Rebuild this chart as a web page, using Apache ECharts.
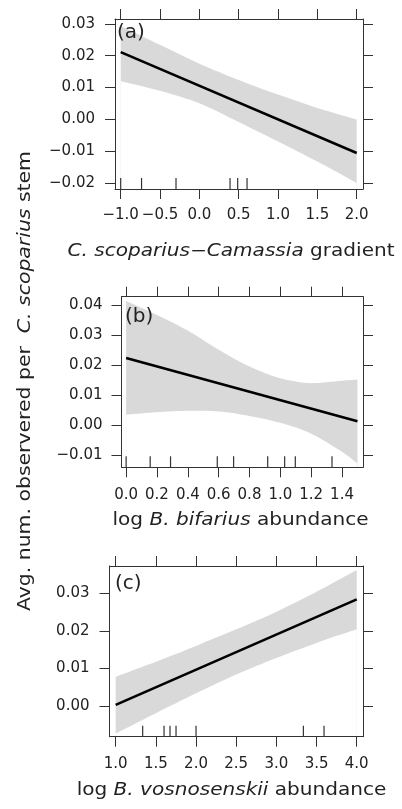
<!DOCTYPE html>
<html>
<head>
<meta charset="utf-8">
<script src="https://cdn.jsdelivr.net/npm/echarts@6/dist/echarts.min.js"></script>
<style>
html,body{margin:0;padding:0;background:#fff;}
#chart{width:402px;height:809px;}
</style>
</head>
<body>
<div id="chart"></div>
<script>
// ---------- Panel (a): C. scoparius–Camassia gradient ----------
const aBandX  = [-1.0, -0.5, 0.0, 0.5, 1.0, 1.5, 2.0];
const aUpper  = [0.0293, 0.0234, 0.0175, 0.0124, 0.0078, 0.0036, 0.0000];
const aLower  = [0.0120, 0.0090, 0.0051, -0.0008, -0.0069, -0.0132, -0.0199];
const aFitX   = [-1.0, 2.0];
const aFitY   = [0.0211, -0.0105];
const aRug    = [-1.0, -0.735, -0.297, 0.39, 0.487, 0.606];
const aXTicks = [-1.0, -0.5, 0.0, 0.5, 1.0, 1.5, 2.0];
const aYTicks = [-0.02, -0.01, 0.00, 0.01, 0.02, 0.03];

// ---------- Panel (b): log B. bifarius abundance ----------
const bBandX  = [0.0, 0.2, 0.4, 0.6, 0.8, 1.0, 1.2, 1.4, 1.5];
const bUpper  = [0.0413, 0.0367, 0.0315, 0.0251, 0.0195, 0.0156, 0.0140, 0.0148, 0.0152];
const bLower  = [0.0035, 0.0043, 0.0048, 0.0046, 0.0031, 0.0008, -0.0028, -0.0088, -0.0127];
const bFitX   = [0.0, 1.5];
const bFitY   = [0.0224, 0.0013];
const bRug    = [0.0, 0.156, 0.288, 0.591, 0.697, 0.918, 1.028, 1.097, 1.335];
const bXTicks = [0.0, 0.2, 0.4, 0.6, 0.8, 1.0, 1.2, 1.4];
const bYTicks = [-0.01, 0.00, 0.01, 0.02, 0.03, 0.04];

// ---------- Panel (c): log B. vosnosenskii abundance ----------
const cBandX  = [1.0, 1.5, 2.0, 2.5, 3.0, 3.5, 4.0];
const cUpper  = [0.0078, 0.0118, 0.0160, 0.0204, 0.0251, 0.0304, 0.0362];
const cLower  = [-0.0073, -0.0019, 0.0034, 0.0084, 0.0128, 0.0168, 0.0204];
const cFitX   = [1.0, 4.0];
const cFitY   = [0.0003, 0.0284];
const cRug    = [1.336, 1.602, 1.676, 1.751, 2.0, 3.336, 3.593];
const cXTicks = [1.0, 1.5, 2.0, 2.5, 3.0, 3.5, 4.0];
const cYTicks = [0.00, 0.01, 0.02, 0.03];

// ---------- Text ----------
const xTitles = [
  '{i|C. scoparius}\u2212{i|Camassia} gradient',
  'log {i|B. bifarius} abundance',
  'log {i|B. vosnosenskii} abundance'
];
const yTitle = 'Avg. num. observered per  {i|C. scoparius} stem';
const panelTags = ['(a)', '(b)', '(c)'];

// ---------- Layout / style ----------
const FONT = 'DejaVu Sans';
const TXT = '#222';
const FRAME = '#333';
const BAND = '#d9d9d9';

const panels = [
  {band:[aBandX,aUpper,aLower], fit:[aFitX,aFitY], rug:aRug, xt:aXTicks, yt:aYTicks,
   grid:{left:115, top:19, width:248, height:170}, xr:[-1.0725, 2.080], yr:[-0.0218, 0.0315],
   xdec:1, xm:19, ym:20},
  {band:[bBandX,bUpper,bLower], fit:[bFitX,bFitY], rug:bRug, xt:bXTicks, yt:bYTicks,
   grid:{left:121.5, top:296.7, width:241.5, height:170.6}, xr:[-0.030, 1.536], yr:[-0.0140, 0.04276],
   xdec:1, xm:20, ym:19},
  {band:[cBandX,cUpper,cLower], fit:[cFitX,cFitY], rug:cRug, xt:cXTicks, yt:cYTicks,
   grid:{left:109.5, top:566, width:253.5, height:170.7}, xr:[0.923, 4.078], yr:[-0.00817, 0.03727],
   xdec:1, xm:20, ym:20}
];
const titlePos = [[231, 252], [240.5, 520.5], [231.5, 791]];
const tagPos = [[117, 33], [125, 316.5], [115, 584]];

function fmt(v, d){ const s = Math.abs(v).toFixed(d); return (v < -1e-12 ? '\u2212' : '') + s; }

const grids = [], xAxes = [], yAxes = [], series = [], graphics = [];
const labelStyle = {fontFamily: FONT, fontSize: 15, color: TXT};

panels.forEach((p, i) => {
  grids.push(Object.assign({containLabel:false}, p.grid));
  const tick = (vals) => ({show:true, inside:false, length:10, customValues: vals, lineStyle:{color:FRAME, width:1}});
  const line = {show:true, onZero:false, lineStyle:{color:FRAME, width:1}};
  xAxes.push({type:'value', gridIndex:i, position:'bottom', min:p.xr[0], max:p.xr[1], z:8,
    axisLine:line, axisTick:tick(p.xt), splitLine:{show:false},
    axisLabel:Object.assign({show:true, margin:p.xm, customValues:p.xt, formatter:v=>fmt(v,p.xdec)}, labelStyle)});
  xAxes.push({type:'value', gridIndex:i, position:'top', min:p.xr[0], max:p.xr[1], z:8,
    axisLine:line, axisTick:tick(p.xt), splitLine:{show:false}, axisLabel:{show:false}});
  yAxes.push({type:'value', gridIndex:i, position:'left', min:p.yr[0], max:p.yr[1], z:8,
    axisLine:line, axisTick:tick(p.yt), splitLine:{show:false},
    axisLabel:Object.assign({show:true, margin:p.ym, customValues:p.yt, formatter:v=>fmt(v,2)}, labelStyle)});
  yAxes.push({type:'value', gridIndex:i, position:'right', min:p.yr[0], max:p.yr[1], z:8,
    axisLine:line, axisTick:tick(p.yt), splitLine:{show:false}, axisLabel:{show:false}});

  const xi = i*2, yi = i*2;
  const [bx, up, lo] = p.band;
  // confidence band: grey area under upper edge, masked by white area under lower edge
  series.push({type:'line', xAxisIndex:xi, yAxisIndex:yi,
    data: bx.map((x,k)=>[x, up[k]]), symbol:'none', smooth:0.3, silent:true,
    lineStyle:{width:0, opacity:0}, areaStyle:{color:BAND, opacity:1, origin:'start'}, z:1});
  series.push({type:'line', xAxisIndex:xi, yAxisIndex:yi,
    data: bx.map((x,k)=>[x, lo[k]]), symbol:'none', smooth:0.3, silent:true,
    lineStyle:{width:0, opacity:0}, areaStyle:{color:'#ffffff', opacity:1, origin:'start'}, z:2});
  // fitted line
  series.push({type:'line', xAxisIndex:xi, yAxisIndex:yi,
    data: p.fit[0].map((x,k)=>[x, p.fit[1][k]]), symbol:'none', silent:true,
    lineStyle:{color:'#000', width:2.6}, z:3});
  // rug
  const ymin = p.yr[0];
  series.push({type:'custom', xAxisIndex:xi, yAxisIndex:yi, data:p.rug.map(v=>[v]), silent:true, z:4,
    renderItem:(params, api) => {
      const pt = api.coord([api.value(0), ymin]);
      return {type:'line', shape:{x1:pt[0], y1:pt[1], x2:pt[0], y2:pt[1]-11},
        style:{stroke:FRAME, lineWidth:1.2}};
    }});

  graphics.push({type:'text', x:titlePos[i][0], y:titlePos[i][1], scaleX:1.18, z:10,
    style:{text:xTitles[i], fontFamily:FONT, fontSize:17, fill:TXT, align:'center', verticalAlign:'middle',
      rich:{i:{fontFamily:FONT, fontSize:17, fontStyle:'italic', fill:TXT}}}});
  graphics.push({type:'text', x:tagPos[i][0], y:tagPos[i][1], z:10,
    style:{text:panelTags[i], fontFamily:FONT, fontSize:20, fill:TXT, align:'left', verticalAlign:'middle'}});
});

graphics.push({type:'text', x:26, y:381, rotation:Math.PI/2, scaleX:1.2, z:10,
  style:{text:yTitle, fontFamily:FONT, fontSize:17, fill:TXT, align:'center', verticalAlign:'middle',
    rich:{i:{fontFamily:FONT, fontSize:17, fontStyle:'italic', fill:TXT}}}});

const chart = echarts.init(document.getElementById('chart'), null, {renderer:'canvas'});
chart.setOption({
  animation:false,
  backgroundColor:'#fff',
  grid:grids, xAxis:xAxes, yAxis:yAxes, series:series, graphic:graphics
});
</script>
</body>
</html>
